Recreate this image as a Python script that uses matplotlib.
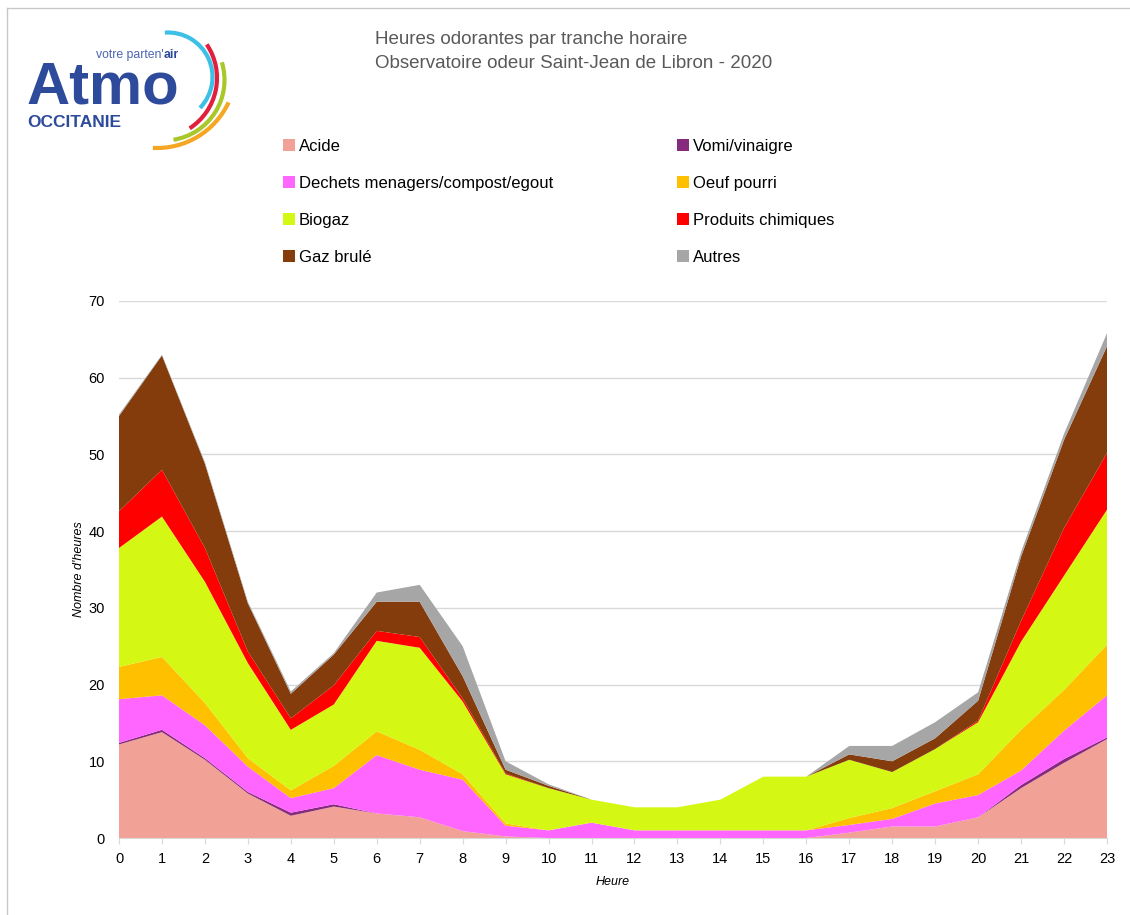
import matplotlib
matplotlib.use("Agg")
import matplotlib.pyplot as plt
from matplotlib.patches import Arc

plt.rcParams["font.family"] = ["Liberation Sans", "DejaVu Sans"]

# Donnees (heures odorantes par tranche horaire)
heures = list(range(24))
acide = [12.2, 13.8, 10.2, 5.8, 2.9, 4.1, 3.2, 2.7, 0.9, 0.2, 0, 0, 0, 0, 0, 0, 0,
         0.7, 1.5, 1.5, 2.7, 6.5, 9.8, 12.9]
vomi = [0.2, 0.3, 0.2, 0.2, 0.4, 0.3, 0, 0, 0, 0, 0, 0, 0, 0, 0, 0, 0,
        0, 0, 0, 0, 0.4, 0.5, 0.2]
dechets = [5.7, 4.5, 4.3, 3.3, 1.9, 2.1, 7.6, 6.2, 6.7, 1.4, 1.0, 2.0, 1.0, 1.0, 1.0, 1.0, 1.0,
           1.0, 1.0, 3.0, 2.9, 1.9, 3.7, 5.5]
oeuf = [4.2, 5.0, 2.9, 1.1, 1.0, 2.9, 3.1, 2.6, 0.7, 0.3, 0, 0, 0, 0, 0, 0, 0,
        0.9, 1.4, 1.6, 2.7, 5.3, 5.3, 6.6]
biogaz = [15.5, 18.3, 15.8, 12.4, 7.9, 8.0, 11.8, 13.3, 9.5, 6.4, 5.5, 3.0, 3.0, 3.0, 4.0, 7.0, 7.0,
          7.6, 4.7, 5.5, 6.8, 11.5, 14.9, 17.6]
chimie = [4.8, 6.1, 4.4, 1.5, 1.5, 2.5, 1.3, 1.4, 0.4, 0.1, 0, 0, 0, 0, 0, 0, 0,
          0, 0, 0, 0.2, 2.7, 6.2, 7.4]
gaz = [12.4, 14.9, 11.0, 6.3, 3.2, 4.0, 3.8, 4.6, 2.9, 0.5, 0.3, 0, 0, 0, 0, 0, 0,
       0.7, 1.4, 1.4, 2.6, 8.4, 11.5, 13.9]
autres = [0.2, 0.1, 0.2, 0.2, 0.3, 0.2, 1.2, 2.2, 3.9, 1.1, 0.2, 0, 0, 0, 0, 0, 0,
          1.1, 2.0, 2.1, 1.1, 0.6, 0.8, 1.7]

labels = ["Acide", "Vomi/vinaigre", "Dechets menagers/compost/egout", "Oeuf pourri",
          "Biogaz", "Produits chimiques", "Gaz brulé", "Autres"]
couleurs = ["#F1A196", "#862A7E", "#FF66FF", "#FFC000",
            "#D5F714", "#FF0000", "#843C0C", "#A6A6A6"]

W, H = 1130, 915
fig = plt.figure(figsize=(W / 100, H / 100), dpi=100)

# Calque en pixels pour le logo et le cadre
bg = fig.add_axes([0, 0, 1, 1])
bg.set_xlim(0, W)
bg.set_ylim(H, 0)
bg.axis("off")
bg.plot([7, W], [8, 8], color="#c8c8c8", lw=1)
bg.plot([7, 7], [8, H], color="#c8c8c8", lw=1)

# Logo Atmo Occitanie
bleu = "#2E4A9A"
bg.text(27, 104, "Atmo", fontsize=43, fontweight="bold", color=bleu, ha="left", va="baseline")
bg.text(27, 127, "OCCITANIE", fontsize=12.5, fontweight="bold", color=bleu, ha="left", va="baseline")
bg.text(164, 58, "votre parten'", fontsize=8.8, color="#4a64b0", ha="right", va="baseline")
bg.text(164, 58, "air", fontsize=8.8, fontweight="bold", color=bleu, ha="left", va="baseline")
# arcs (angles en coordonnees image, y vers le bas)
for (cx, cy, r, a1, a2, c) in [(168, 77, 44.5, -94, 44, "#3CC0E6"),
                               (157, 78, 60, -34, 57, "#E0203C"),
                               (164, 80, 60.5, -17, 81, "#A8C82A"),
                               (157, 69, 79, 25, 93, "#F5A623")]:
    bg.add_patch(Arc((cx, cy), 2 * r, 2 * r, theta1=a1, theta2=a2, color=c, lw=3))

# Titre
fig.text(375 / W, 1 - 44 / H, "Heures odorantes par tranche horaire",
         fontsize=13.5, color="#595959", ha="left", va="baseline")
fig.text(375 / W, 1 - 68 / H, "Observatoire odeur Saint-Jean de Libron - 2020",
         fontsize=13.5, color="#595959", ha="left", va="baseline")

# Graphique principal
ax = fig.add_axes([119 / W, 77 / H, 988 / W, 537 / H])
polys = ax.stackplot(heures, acide, vomi, dechets, oeuf, biogaz, chimie, gaz, autres,
                     colors=couleurs, labels=labels, linewidth=0)
ax.set_xlim(0, 23)
ax.set_ylim(0, 70)
ax.set_xticks(heures)
ax.set_yticks(range(0, 71, 10))
ax.yaxis.grid(True, color="#d9d9d9", lw=1)
ax.set_axisbelow(True)
for s in ["top", "right", "left"]:
    ax.spines[s].set_visible(False)
ax.spines["bottom"].set_color("#d9d9d9")
ax.tick_params(axis="x", length=4, color="#d9d9d9", labelsize=10.5, pad=6)
ax.tick_params(axis="y", length=0, labelsize=10.5, pad=10)
ax.set_xlabel("Heure", fontsize=9, style="italic", labelpad=7)
ax.set_ylabel("Nombre d'heures", fontsize=9, style="italic", labelpad=3)

# Legende sur deux colonnes (ordre ligne par ligne)
opts = dict(loc="upper left", frameon=False, fontsize=12, borderpad=0, borderaxespad=0,
            handlelength=0.7, handleheight=0.7, handletextpad=0.25, labelspacing=1.32)
fig.legend([polys[i] for i in (0, 2, 4, 6)], [labels[i] for i in (0, 2, 4, 6)],
           bbox_to_anchor=(283 / W, 1 - 139 / H), **opts)
fig.legend([polys[i] for i in (1, 3, 5, 7)], [labels[i] for i in (1, 3, 5, 7)],
           bbox_to_anchor=(677 / W, 1 - 139 / H), **opts)

fig.savefig("out.png", dpi=100)
